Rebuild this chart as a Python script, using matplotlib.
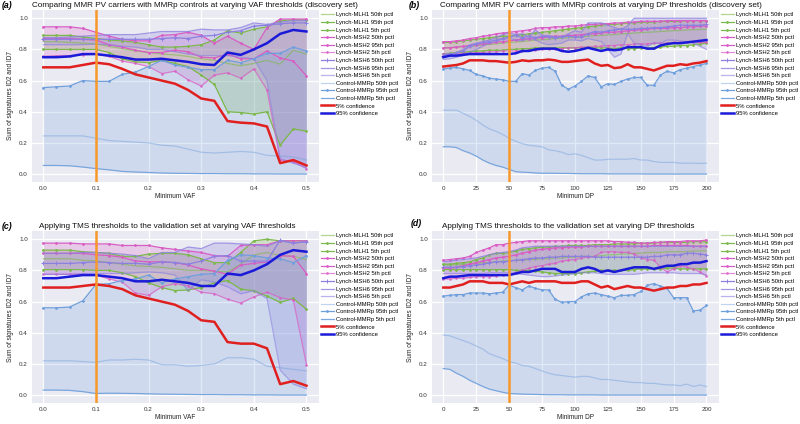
import numpy as np
import matplotlib
matplotlib.use("Agg")
import matplotlib.pyplot as plt

# ---------------- x values ----------------
VAF = [0.0, 0.025, 0.05, 0.075, 0.1, 0.125, 0.15, 0.175, 0.2, 0.225, 0.25,
       0.275, 0.3, 0.325, 0.35, 0.375, 0.4, 0.425, 0.45, 0.475, 0.5]
DP = list(range(0, 201, 5))

LABELS = ["Lynch-MLH1 50th pctl", "Lynch-MLH1 95th pctl", "Lynch-MLH1 5th pctl",
          "Lynch-MSH2 50th pctl", "Lynch-MSH2 95th pctl", "Lynch-MSH2 5th pctl",
          "Lynch-MSH6 50th pctl", "Lynch-MSH6 95th pctl", "Lynch-MSH6 5th pctl",
          "Control-MMRp 50th pctl", "Control-MMRp 95th pctl", "Control-MMRp 5th pctl",
          "5% confidence", "95% confidence"]

TITLES = ["Comparing MMR PV carriers with MMRp controls at varying VAF thresholds (discovery set)",
          "Comparing MMR PV carriers with MMRp controls at varying DP thresholds (discovery set)",
          "Applying TMS thresholds to the validation set at varying VAF thresholds",
          "Applying TMS thresholds to the validation set at varying DP thresholds"]
PANEL_TAGS = ["(a)", "(b)", "(c)", "(d)"]
XLABELS = ["Minimum VAF", "Minimum DP", "Minimum VAF", "Minimum DP"]
YLABEL = "Sum of signatures ID2 and ID7"
VLINES = [0.1, 50, 0.1, 50]

# ---------------- panel (a) ----------------
A_MLH1_50 = [0.85, 0.85, 0.845, 0.84, 0.835, 0.82, 0.805, 0.79, 0.78, 0.77, 0.765, 0.755, 0.74, 0.73, 0.71, 0.695, 0.71, 0.73, 0.705, 0.795, 0.77]
A_MLH1_95 = [0.89, 0.89, 0.89, 0.88, 0.87, 0.86, 0.855, 0.845, 0.83, 0.815, 0.815, 0.82, 0.83, 0.86, 0.92, 0.905, 0.93, 0.945, 0.985, 0.99, 0.99]
A_MLH1_5 = [0.80, 0.80, 0.80, 0.80, 0.80, 0.78, 0.74, 0.72, 0.715, 0.73, 0.71, 0.69, 0.635, 0.575, 0.40, 0.395, 0.385, 0.40, 0.185, 0.29, 0.275]
A_MSH2_50 = [0.87, 0.87, 0.87, 0.865, 0.86, 0.83, 0.815, 0.795, 0.78, 0.78, 0.795, 0.785, 0.75, 0.745, 0.77, 0.74, 0.74, 0.79, 0.745, 0.725, 0.63]
A_MSH2_95 = [0.945, 0.945, 0.945, 0.935, 0.91, 0.885, 0.865, 0.855, 0.855, 0.89, 0.895, 0.91, 0.89, 0.84, 0.885, 0.84, 0.80, 0.94, 0.995, 0.995, 0.995]
A_MSH2_5 = [0.755, 0.76, 0.76, 0.765, 0.77, 0.755, 0.725, 0.71, 0.69, 0.645, 0.66, 0.605, 0.565, 0.635, 0.65, 0.615, 0.675, 0.54, 0.09, 0.08, 0.035]
A_MSH6_50 = [0.865, 0.865, 0.865, 0.865, 0.865, 0.865, 0.865, 0.865, 0.865, 0.87, 0.875, 0.87, 0.885, 0.89, 0.91, 0.92, 0.95, 0.955, 0.965, 0.97, 0.97]
A_MSH6_95 = [0.875, 0.875, 0.88, 0.885, 0.89, 0.895, 0.895, 0.895, 0.905, 0.915, 0.915, 0.915, 0.93, 0.925, 0.925, 0.94, 0.97, 0.96, 0.975, 0.985, 0.985]
A_MSH6_5 = [0.83, 0.83, 0.83, 0.83, 0.835, 0.83, 0.82, 0.815, 0.80, 0.80, 0.785, 0.77, 0.76, 0.76, 0.76, 0.75, 0.74, 0.60, 0.10, 0.07, 0.04]
A_CTRL_50 = [0.245, 0.245, 0.245, 0.245, 0.23, 0.215, 0.21, 0.205, 0.20, 0.185, 0.18, 0.16, 0.14, 0.135, 0.14, 0.145, 0.14, 0.12, 0.115, 0.11, 0.09]
A_CTRL_95 = [0.555, 0.56, 0.565, 0.60, 0.595, 0.595, 0.64, 0.655, 0.69, 0.73, 0.70, 0.685, 0.67, 0.67, 0.73, 0.715, 0.74, 0.775, 0.775, 0.815, 0.79]
A_CTRL_5 = [0.055, 0.055, 0.053, 0.045, 0.035, 0.027, 0.017, 0.013, 0.01, 0.007, 0.005, 0.004, 0.003, 0.003, 0.002, 0.002, 0.001, 0.001, 0.0, 0.0, 0.0]
A_CONF5 = [0.685, 0.685, 0.685, 0.70, 0.715, 0.705, 0.675, 0.64, 0.62, 0.60, 0.58, 0.54, 0.485, 0.47, 0.34, 0.33, 0.325, 0.305, 0.07, 0.09, 0.055]
A_CONF95 = [0.75, 0.75, 0.755, 0.77, 0.77, 0.76, 0.75, 0.735, 0.735, 0.74, 0.73, 0.72, 0.705, 0.70, 0.78, 0.765, 0.80, 0.84, 0.90, 0.925, 0.915]

# ---------------- panel (b) ----------------
B_MLH1_50 = [0.81, 0.812, 0.815, 0.818, 0.82, 0.825, 0.83, 0.832, 0.835, 0.84, 0.845, 0.848, 0.85, 0.855, 0.86, 0.862, 0.865, 0.87, 0.872, 0.875, 0.878,
             0.88, 0.885, 0.888, 0.89, 0.893, 0.895, 0.90, 0.902, 0.905, 0.908, 0.91, 0.912, 0.915, 0.918, 0.92, 0.922, 0.925, 0.927, 0.928, 0.93]
B_MLH1_95 = [0.845, 0.845, 0.85, 0.855, 0.86, 0.865, 0.87, 0.875, 0.88, 0.885, 0.885, 0.89, 0.895, 0.90, 0.905, 0.91, 0.915, 0.92, 0.925, 0.93, 0.935,
             0.94, 0.945, 0.95, 0.955, 0.96, 0.96, 0.965, 0.97, 0.97, 0.975, 0.975, 0.975, 0.98, 0.98, 0.98, 0.98, 0.985, 0.985, 0.985, 0.985]
B_MLH1_5 = [0.77, 0.775, 0.78, 0.78, 0.785, 0.79, 0.79, 0.795, 0.795, 0.795, 0.80, 0.80, 0.805, 0.805, 0.81, 0.81, 0.81, 0.81, 0.81, 0.81, 0.81,
            0.81, 0.815, 0.81, 0.81, 0.81, 0.805, 0.81, 0.805, 0.805, 0.81, 0.81, 0.81, 0.815, 0.82, 0.82, 0.825, 0.825, 0.83, 0.835, 0.84]
B_MSH2_50 = [0.81, 0.81, 0.815, 0.82, 0.825, 0.83, 0.835, 0.84, 0.845, 0.85, 0.855, 0.86, 0.865, 0.87, 0.875, 0.875, 0.88, 0.885, 0.885, 0.89, 0.89,
             0.895, 0.90, 0.90, 0.905, 0.91, 0.91, 0.915, 0.92, 0.925, 0.925, 0.93, 0.935, 0.935, 0.935, 0.94, 0.94, 0.945, 0.945, 0.95, 0.95]
B_MSH2_95 = [0.85, 0.85, 0.855, 0.86, 0.87, 0.875, 0.885, 0.89, 0.90, 0.905, 0.91, 0.915, 0.92, 0.925, 0.935, 0.94, 0.94, 0.945, 0.945, 0.95, 0.95,
             0.955, 0.96, 0.96, 0.965, 0.965, 0.97, 0.97, 0.975, 0.975, 0.98, 0.98, 0.98, 0.98, 0.985, 0.985, 0.985, 0.985, 0.985, 0.985, 0.985]
B_MSH2_5 = [0.77, 0.77, 0.77, 0.775, 0.775, 0.78, 0.78, 0.785, 0.785, 0.79, 0.79, 0.79, 0.79, 0.795, 0.795, 0.80, 0.80, 0.805, 0.805, 0.81, 0.81,
            0.815, 0.815, 0.82, 0.82, 0.825, 0.825, 0.83, 0.83, 0.835, 0.835, 0.835, 0.84, 0.84, 0.84, 0.845, 0.845, 0.845, 0.845, 0.845, 0.845]
B_MSH6_50 = [0.76, 0.77, 0.775, 0.79, 0.82, 0.835, 0.845, 0.85, 0.86, 0.87, 0.88, 0.89, 0.875, 0.885, 0.875, 0.885, 0.88, 0.875, 0.88, 0.885, 0.88,
             0.88, 0.90, 0.915, 0.91, 0.92, 0.925, 0.93, 0.93, 0.93, 0.935, 0.935, 0.94, 0.94, 0.945, 0.95, 0.955, 0.955, 0.955, 0.955, 0.96]
B_MSH6_95 = [0.77, 0.77, 0.78, 0.80, 0.83, 0.84, 0.85, 0.86, 0.875, 0.895, 0.905, 0.895, 0.90, 0.88, 0.925, 0.89, 0.89, 0.88, 0.88, 0.90, 0.92,
             0.91, 0.97, 0.97, 0.97, 0.955, 0.94, 0.93, 0.95, 1.0, 1.0, 1.0, 1.0, 1.0, 1.0, 1.0, 1.0, 1.0, 1.0, 1.0, 1.0]
B_MSH6_5 = [0.735, 0.74, 0.75, 0.76, 0.78, 0.80, 0.82, 0.84, 0.85, 0.865, 0.87, 0.86, 0.855, 0.87, 0.86, 0.84, 0.83, 0.835, 0.84, 0.86, 0.86,
            0.855, 0.87, 0.86, 0.85, 0.80, 0.75, 0.77, 0.90, 0.84, 0.83, 0.82, 0.84, 0.84, 0.86, 0.86, 0.855, 0.85, 0.84, 0.82, 0.80]
B_CTRL_50 = [0.41, 0.41, 0.41, 0.39, 0.37, 0.345, 0.315, 0.29, 0.275, 0.255, 0.23, 0.21, 0.195, 0.185, 0.18, 0.175, 0.155, 0.15, 0.14, 0.125, 0.13,
             0.12, 0.105, 0.09, 0.09, 0.095, 0.095, 0.095, 0.095, 0.10, 0.09, 0.09, 0.08, 0.075, 0.075, 0.075, 0.07, 0.07, 0.07, 0.068, 0.07]
B_CTRL_95 = [0.675, 0.68, 0.685, 0.675, 0.665, 0.64, 0.63, 0.615, 0.61, 0.605, 0.595, 0.595, 0.645, 0.635, 0.665, 0.68, 0.685, 0.66, 0.57, 0.545, 0.565,
             0.595, 0.63, 0.62, 0.56, 0.58, 0.575, 0.595, 0.61, 0.62, 0.62, 0.57, 0.57, 0.635, 0.66, 0.65, 0.67, 0.68, 0.69, 0.70, 0.71]
B_CTRL_5 = [0.175, 0.175, 0.17, 0.15, 0.135, 0.115, 0.09, 0.07, 0.055, 0.045, 0.03, 0.015, 0.012, 0.01, 0.007, 0.005, 0.005, 0.005, 0.004, 0.004, 0.003,
            0.002, 0.002, 0.002, 0.002, 0.001, 0.001, 0.001, 0.001, 0.001, 0.001, 0.0, 0.0, 0.0, 0.0, 0.0, 0.0, 0.0, 0.0, 0.0, 0.0]
B_CONF5 = [0.69, 0.695, 0.70, 0.71, 0.73, 0.73, 0.73, 0.725, 0.725, 0.72, 0.715, 0.72, 0.73, 0.725, 0.73, 0.73, 0.735, 0.73, 0.72, 0.72, 0.725,
           0.73, 0.735, 0.71, 0.695, 0.70, 0.68, 0.685, 0.705, 0.685, 0.685, 0.675, 0.665, 0.68, 0.695, 0.695, 0.705, 0.70, 0.71, 0.715, 0.725]
B_CONF95 = [0.75, 0.76, 0.76, 0.765, 0.77, 0.77, 0.77, 0.77, 0.77, 0.77, 0.77, 0.775, 0.79, 0.79, 0.80, 0.805, 0.805, 0.805, 0.79, 0.785, 0.79,
            0.80, 0.81, 0.80, 0.79, 0.80, 0.795, 0.80, 0.815, 0.815, 0.815, 0.805, 0.805, 0.825, 0.835, 0.84, 0.84, 0.845, 0.85, 0.855, 0.86]

# ---------------- panel (c) ----------------
C_MLH1_50 = [0.875, 0.875, 0.875, 0.865, 0.86, 0.85, 0.84, 0.83, 0.825, 0.82, 0.81, 0.80, 0.80, 0.795, 0.79, 0.84, 0.90, 0.915, 0.895, 0.89, 0.87]
C_MLH1_95 = [0.93, 0.93, 0.93, 0.92, 0.915, 0.91, 0.89, 0.89, 0.905, 0.91, 0.91, 0.90, 0.875, 0.85, 0.85, 0.915, 0.99, 1.0, 0.99, 0.99, 0.99]
C_MLH1_5 = [0.805, 0.805, 0.805, 0.805, 0.80, 0.80, 0.785, 0.76, 0.72, 0.69, 0.67, 0.675, 0.69, 0.72, 0.735, 0.68, 0.67, 0.635, 0.595, 0.62, 0.55]
C_MSH2_50 = [0.91, 0.91, 0.91, 0.91, 0.90, 0.895, 0.885, 0.86, 0.855, 0.855, 0.85, 0.835, 0.81, 0.795, 0.775, 0.835, 0.845, 0.855, 0.895, 0.89, 0.78]
C_MSH2_95 = [0.975, 0.975, 0.975, 0.97, 0.97, 0.97, 0.96, 0.96, 0.96, 0.945, 0.935, 0.925, 0.915, 0.895, 0.89, 0.96, 0.965, 0.965, 0.99, 0.99, 0.99]
C_MSH2_5 = [0.775, 0.775, 0.775, 0.775, 0.77, 0.745, 0.725, 0.655, 0.64, 0.695, 0.715, 0.70, 0.66, 0.65, 0.615, 0.59, 0.63, 0.66, 0.625, 0.61, 0.195]
C_MSH6_50 = [0.845, 0.845, 0.845, 0.85, 0.855, 0.85, 0.845, 0.845, 0.84, 0.855, 0.85, 0.84, 0.86, 0.89, 0.895, 0.86, 0.86, 0.86, 0.995, 0.975, 0.985]
C_MSH6_95 = [0.91, 0.91, 0.91, 0.915, 0.915, 0.91, 0.905, 0.895, 0.875, 0.915, 0.915, 0.95, 0.94, 0.975, 0.975, 0.97, 0.965, 0.955, 0.99, 0.975, 0.985]
C_MSH6_5 = [0.775, 0.775, 0.775, 0.78, 0.78, 0.78, 0.78, 0.785, 0.79, 0.785, 0.77, 0.67, 0.74, 0.725, 0.695, 0.65, 0.67, 0.62, 0.16, 0.07, 0.04]
C_CTRL_50 = [0.22, 0.22, 0.22, 0.215, 0.21, 0.225, 0.225, 0.23, 0.225, 0.195, 0.195, 0.185, 0.19, 0.20, 0.24, 0.24, 0.23, 0.185, 0.175, 0.165, 0.155]
C_CTRL_95 = [0.56, 0.56, 0.565, 0.605, 0.71, 0.715, 0.735, 0.745, 0.77, 0.72, 0.745, 0.76, 0.775, 0.78, 0.865, 0.90, 0.895, 0.88, 0.875, 0.85, 0.895]
C_CTRL_5 = [0.032, 0.032, 0.03, 0.022, 0.01, 0.012, 0.011, 0.01, 0.008, 0.006, 0.005, 0.004, 0.003, 0.003, 0.002, 0.002, 0.001, 0.001, 0.0, 0.0, 0.0]
C_CONF5 = [0.69, 0.69, 0.69, 0.70, 0.71, 0.70, 0.68, 0.64, 0.62, 0.60, 0.58, 0.54, 0.48, 0.47, 0.34, 0.33, 0.33, 0.30, 0.07, 0.09, 0.06]
C_CONF95 = [0.75, 0.75, 0.76, 0.77, 0.77, 0.76, 0.75, 0.73, 0.73, 0.74, 0.73, 0.72, 0.70, 0.70, 0.78, 0.77, 0.80, 0.84, 0.90, 0.93, 0.92]

# ---------------- panel (d) ----------------
D_MLH1_50 = [0.835, 0.835, 0.835, 0.84, 0.84, 0.845, 0.85, 0.85, 0.855, 0.86, 0.86, 0.865, 0.865, 0.87, 0.87, 0.875, 0.875, 0.88, 0.88, 0.885, 0.885,
             0.89, 0.89, 0.89, 0.895, 0.90, 0.90, 0.905, 0.905, 0.91, 0.91, 0.915, 0.915, 0.915, 0.92, 0.92, 0.92, 0.92, 0.925, 0.925, 0.925]
D_MLH1_95 = [0.84, 0.84, 0.845, 0.85, 0.855, 0.87, 0.88, 0.90, 0.91, 0.91, 0.915, 0.925, 0.935, 0.94, 0.945, 0.95, 0.95, 0.955, 0.955, 0.96, 0.96,
             0.96, 0.96, 0.965, 0.965, 0.965, 0.97, 0.97, 0.97, 0.97, 0.975, 0.975, 0.975, 0.98, 0.98, 0.98, 0.98, 0.98, 0.985, 0.985, 0.985]
D_MLH1_5 = [0.805, 0.805, 0.805, 0.805, 0.805, 0.805, 0.805, 0.805, 0.805, 0.805, 0.805, 0.80, 0.80, 0.80, 0.795, 0.79, 0.785, 0.78, 0.78, 0.78, 0.78,
            0.785, 0.79, 0.795, 0.80, 0.80, 0.80, 0.80, 0.80, 0.805, 0.81, 0.81, 0.81, 0.81, 0.815, 0.815, 0.81, 0.81, 0.81, 0.81, 0.81]
D_MSH2_50 = [0.815, 0.815, 0.82, 0.83, 0.84, 0.85, 0.86, 0.87, 0.88, 0.885, 0.89, 0.90, 0.91, 0.92, 0.93, 0.935, 0.94, 0.945, 0.945, 0.95, 0.95,
             0.95, 0.955, 0.955, 0.955, 0.955, 0.955, 0.955, 0.955, 0.955, 0.955, 0.955, 0.96, 0.96, 0.96, 0.96, 0.96, 0.96, 0.955, 0.955, 0.955]
D_MSH2_95 = [0.865, 0.87, 0.875, 0.88, 0.89, 0.915, 0.93, 0.945, 0.965, 0.965, 0.975, 0.98, 0.985, 0.99, 0.99, 0.99, 0.99, 0.99, 0.99, 0.99, 0.99,
             0.99, 0.99, 0.99, 0.99, 0.99, 0.985, 0.985, 0.98, 0.98, 0.975, 0.975, 0.98, 0.98, 0.985, 0.985, 0.985, 0.99, 0.99, 0.99, 0.995]
D_MSH2_5 = [0.745, 0.745, 0.75, 0.75, 0.755, 0.76, 0.76, 0.76, 0.765, 0.77, 0.775, 0.785, 0.80, 0.815, 0.825, 0.83, 0.84, 0.845, 0.86, 0.865, 0.87,
            0.88, 0.885, 0.89, 0.915, 0.92, 0.92, 0.915, 0.915, 0.905, 0.88, 0.87, 0.865, 0.82, 0.79, 0.81, 0.83, 0.82, 0.81, 0.79, 0.765]
D_MSH6_50 = [0.82, 0.82, 0.82, 0.825, 0.83, 0.835, 0.84, 0.85, 0.855, 0.855, 0.86, 0.865, 0.87, 0.875, 0.88, 0.88, 0.885, 0.885, 0.89, 0.89, 0.89,
             0.89, 0.89, 0.885, 0.885, 0.885, 0.885, 0.885, 0.885, 0.885, 0.885, 0.885, 0.89, 0.89, 0.90, 0.90, 0.90, 0.91, 0.91, 0.905, 0.90]
D_MSH6_95 = [0.855, 0.86, 0.865, 0.87, 0.875, 0.88, 0.89, 0.90, 0.91, 0.915, 0.92, 0.93, 0.945, 0.95, 0.955, 0.955, 0.955, 0.955, 0.955, 0.955, 0.955,
             0.955, 0.955, 0.955, 0.955, 0.955, 0.955, 0.955, 0.955, 0.955, 0.955, 0.955, 0.955, 0.955, 0.955, 0.955, 0.955, 0.955, 0.955, 0.955, 0.955]
D_MSH6_5 = [0.78, 0.78, 0.78, 0.78, 0.78, 0.78, 0.78, 0.785, 0.785, 0.785, 0.785, 0.78, 0.775, 0.77, 0.765, 0.76, 0.76, 0.765, 0.77, 0.775, 0.78,
            0.785, 0.785, 0.785, 0.78, 0.775, 0.775, 0.775, 0.775, 0.775, 0.78, 0.785, 0.785, 0.785, 0.785, 0.785, 0.78, 0.78, 0.78, 0.78, 0.77]
D_CTRL_50 = [0.385, 0.38, 0.365, 0.35, 0.335, 0.315, 0.295, 0.265, 0.25, 0.235, 0.215, 0.205, 0.19, 0.185, 0.17, 0.155, 0.14, 0.13, 0.125, 0.12, 0.115,
             0.12, 0.12, 0.11, 0.10, 0.10, 0.095, 0.09, 0.085, 0.08, 0.08, 0.075, 0.075, 0.07, 0.065, 0.065, 0.06, 0.07, 0.055, 0.065, 0.055]
D_CTRL_95 = [0.635, 0.64, 0.645, 0.645, 0.655, 0.655, 0.655, 0.65, 0.655, 0.66, 0.705, 0.69, 0.675, 0.70, 0.685, 0.675, 0.675, 0.615, 0.595, 0.60, 0.60,
             0.63, 0.65, 0.655, 0.645, 0.635, 0.625, 0.64, 0.64, 0.645, 0.665, 0.705, 0.715, 0.70, 0.685, 0.625, 0.625, 0.625, 0.54, 0.545, 0.575]
D_CTRL_5 = [0.17, 0.165, 0.14, 0.12, 0.095, 0.075, 0.055, 0.038, 0.028, 0.018, 0.01, 0.008, 0.006, 0.005, 0.004, 0.003, 0.002, 0.002, 0.002, 0.001, 0.001,
            0.001, 0.001, 0.001, 0.0, 0.0, 0.0, 0.0, 0.0, 0.0, 0.0, 0.0, 0.0, 0.0, 0.0, 0.0, 0.0, 0.0, 0.0, 0.0, 0.0]
D_CONF5 = [0.69, 0.69, 0.70, 0.71, 0.73, 0.73, 0.73, 0.72, 0.72, 0.72, 0.71, 0.72, 0.73, 0.72, 0.73, 0.73, 0.73, 0.73, 0.72, 0.72, 0.72,
           0.73, 0.73, 0.71, 0.69, 0.70, 0.68, 0.69, 0.70, 0.69, 0.69, 0.68, 0.67, 0.68, 0.69, 0.69, 0.70, 0.70, 0.71, 0.71, 0.72]
D_CONF95 = [0.75, 0.76, 0.76, 0.765, 0.77, 0.77, 0.77, 0.77, 0.77, 0.77, 0.77, 0.78, 0.79, 0.79, 0.80, 0.81, 0.81, 0.81, 0.79, 0.79, 0.79,
            0.81, 0.82, 0.81, 0.79, 0.80, 0.79, 0.80, 0.81, 0.82, 0.82, 0.82, 0.81, 0.82, 0.83, 0.83, 0.84, 0.84, 0.85, 0.85, 0.86]

PANELS = [
    (VAF, [A_MLH1_50, A_MLH1_95, A_MLH1_5, A_MSH2_50, A_MSH2_95, A_MSH2_5,
           A_MSH6_50, A_MSH6_95, A_MSH6_5, A_CTRL_50, A_CTRL_95, A_CTRL_5, A_CONF5, A_CONF95]),
    (DP, [B_MLH1_50, B_MLH1_95, B_MLH1_5, B_MSH2_50, B_MSH2_95, B_MSH2_5,
          B_MSH6_50, B_MSH6_95, B_MSH6_5, B_CTRL_50, B_CTRL_95, B_CTRL_5, B_CONF5, B_CONF95]),
    (VAF, [C_MLH1_50, C_MLH1_95, C_MLH1_5, C_MSH2_50, C_MSH2_95, C_MSH2_5,
           C_MSH6_50, C_MSH6_95, C_MSH6_5, C_CTRL_50, C_CTRL_95, C_CTRL_5, C_CONF5, C_CONF95]),
    (DP, [D_MLH1_50, D_MLH1_95, D_MLH1_5, D_MSH2_50, D_MSH2_95, D_MSH2_5,
          D_MSH6_50, D_MSH6_95, D_MSH6_5, D_CTRL_50, D_CTRL_95, D_CTRL_5, D_CONF5, D_CONF95]),
]

# ---------------- styling ----------------
GREEN = "#7cb84a"
PINK = "#d95cc4"
PURPLE = "#8b80e0"
CBLUE = "#6f9fdc"
GROUP_COLORS = [GREEN, PINK, PURPLE, CBLUE]
# (alpha, marker) for 50th, 95th, 5th lines of each group
LINE_STYLES = [
    [(0.6, None), (1.0, "."), (1.0, ".")],
    [(1.0, "."), (1.0, "."), (0.7, ".")],
    [(1.0, "+"), (0.8, None), (0.6, None)],
    [(0.45, None), (1.0, "."), (0.9, None)],
]
FILL_ALPHA = [0.25, 0.22, 0.25, 0.22]

plt.rcParams["font.family"] = ["Liberation Sans", "DejaVu Sans"]
fig = plt.figure(figsize=(8.0, 4.24), dpi=100)

W, H = 800.0, 424.0
AX_BOXES = [(32, 10, 319, 182), (432, 10, 719, 182), (32, 231, 319, 403), (432, 231, 719, 403)]
TITLE_X = [0.0, 0.028, 0.024, 0.035]
TAG_POS = [(2, 5), (409, 5), (2, 227), (411, 224)]

for i, (xs, series) in enumerate(PANELS):
    l, t, r, b = AX_BOXES[i]
    ax = fig.add_axes([l / W, 1 - b / H, (r - l) / W, (b - t) / H])
    ax.set_facecolor("#eaeaf2")
    for s in ax.spines.values():
        s.set_visible(False)
    ax.grid(True, color="white", linewidth=0.9)
    ax.set_axisbelow(True)
    handles = []
    for g in range(4):
        col = GROUP_COLORS[g]
        for k in range(3):
            a, m = LINE_STYLES[g][k]
            h, = ax.plot(xs, series[3 * g + k], color=col, alpha=a, lw=0.9,
                         marker=m, markersize=2.5 if m == "." else 3, markeredgewidth=0.7,
                         label=LABELS[3 * g + k])
            handles.append(h)
        ax.fill_between(xs, series[3 * g + 2], series[3 * g + 1], color=col,
                        alpha=FILL_ALPHA[g], linewidth=0)
    h, = ax.plot(xs, series[12], color="#e01f1f", lw=1.8, label=LABELS[12])
    handles.append(h)
    h, = ax.plot(xs, series[13], color="#1a1ad8", lw=1.8, label=LABELS[13])
    handles.append(h)
    ax.axvline(VLINES[i], color="#f7982a", lw=1.8)
    ax.set_ylim(-0.051, 1.053)
    if xs is VAF:
        ax.set_xlim(-0.0215, 0.5238)
        ax.set_xticks([0.0, 0.1, 0.2, 0.3, 0.4, 0.5])
        ax.set_xticklabels(["0.0", "0.1", "0.2", "0.3", "0.4", "0.5"])
    else:
        ax.set_xlim(-8.6, 209.5)
        ax.set_xticks([0, 25, 50, 75, 100, 125, 150, 175, 200])
    ax.set_yticks([0.0, 0.2, 0.4, 0.6, 0.8, 1.0])
    ax.set_yticklabels(["0.0", "0.2", "0.4", "0.6", "0.8", "1.0"])
    ax.tick_params(axis="both", length=0, labelsize=4.5, colors="#333333", pad=3)
    ax.set_xlabel(XLABELS[i], fontsize=4.7, color="#222222", labelpad=1.5)
    ax.set_ylabel(YLABEL, fontsize=4.7, color="#222222", labelpad=3.5)
    ax.set_title(TITLES[i], fontsize=5.85, loc="left", x=TITLE_X[i], pad=2.5, color="#111111")
    ax.legend(handles=handles, loc="upper left", bbox_to_anchor=(1.0, 1.0),
              frameon=False, fontsize=4.2, handlelength=2.1, handletextpad=0.5,
              labelspacing=0.43, borderaxespad=0.0, borderpad=0.4)
    fig.text(TAG_POS[i][0] / W, 1 - TAG_POS[i][1] / H, PANEL_TAGS[i], fontsize=6.3,
             fontweight="bold", fontstyle="italic", va="center", ha="left")

fig.savefig("out.png", dpi=100)
